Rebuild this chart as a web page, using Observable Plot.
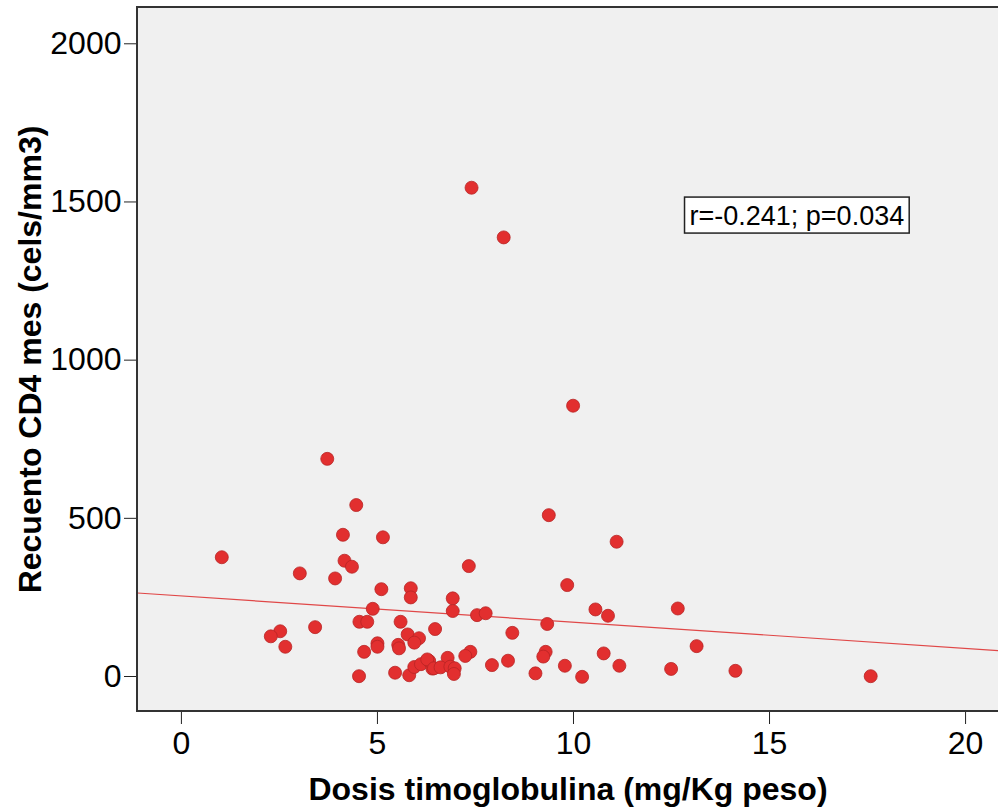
<!DOCTYPE html>
<html>
<head>
<meta charset="utf-8">
<script src="https://cdn.jsdelivr.net/npm/d3@7"></script>
<script src="https://cdn.jsdelivr.net/npm/@observablehq/plot@0.6"></script>
<style>
  html, body { margin: 0; padding: 0; background: #ffffff; }
  #chart svg { display: block; font-family: "Liberation Sans", Arial, sans-serif; }
</style>
</head>
<body>
<div id="chart"></div>
<script>
// Dose of thymoglobulin (mg/Kg) per patient
const dosis = [
  1.03, 3.72, 4.46, 4.12, 5.14, 4.16, 4.35, 3.02, 3.92, 5.10,
  5.85, 5.85, 4.88, 3.41, 2.52, 2.28, 2.65, 4.54, 4.74, 5.59,
  6.47, 5.77, 6.06, 5.94, 5.00, 5.00, 5.53, 5.55, 4.66, 4.53,
  5.45, 5.81, 5.94, 6.11, 6.32, 6.40, 7.33, 6.92, 6.92, 7.54,
  7.76, 8.44, 7.37, 7.24, 6.27, 6.79, 7.92, 8.33, 6.44, 6.61,
  6.86, 6.97, 6.95, 9.84, 10.56, 10.88, 12.66, 9.33, 13.14, 9.29,
  9.23, 10.77, 9.78, 11.17, 12.49, 9.03, 10.22, 9.37, 11.10, 14.13,
  17.58, 7.40, 8.22, 9.99
];
// CD4 count at one month (cels/mm3)
const cd4 = [
  377, 688, 542, 448, 440, 366, 347, 326, 310, 276,
  279, 250, 214, 156, 143, 127, 94, 173, 173, 173,
  150, 133, 121, 107, 105, 94, 100, 89, 78, 1,
  12, 4, 30, 39, 49, 25, 349, 247, 207, 194,
  200, 138, 78, 65, 54, 59, 36, 50, 26, 29,
  31, 26, 8, 289, 212, 192, 215, 166, 96, 78,
  63, 73, 34, 34, 24, 10, -1, 510, 426, 18,
  1, 1545, 1388, 856
];
const xTicks = [0, 5, 10, 15, 20];
const yTicks = [0, 500, 1000, 1500, 2000];
const xDomain = [-1.12, 20.84];
const yDomain = [-110.6, 2114.7];
// Fitted line (from the chart): intercept and slope
const fitIntercept = 254.7;
const fitSlope = -8.29;
const annotation = "r=-0.241; p=0.034";
const annotX = 15.71;
const annotY = 1457;
const xTitle = "Dosis timoglobulina (mg/Kg peso)";
const yTitle = "Recuento CD4 mes (cels/mm3)";

const points = dosis.map((d, i) => ({x: d, y: cd4[i]}));
const fit = xDomain.map(x => ({x, y: fitIntercept + fitSlope * x}));

const chart = Plot.plot({
  width: 998,
  height: 811,
  marginLeft: 137,
  marginRight: 0,
  marginTop: 7,
  marginBottom: 100,
  style: {fontFamily: "'Liberation Sans', Arial, sans-serif", background: "#ffffff", color: "#000"},
  x: {domain: xDomain},
  y: {domain: yDomain},
  marks: [
    Plot.frame({fill: "#f0f0f0", stroke: null}),
    Plot.line(fit, {x: "x", y: "y", stroke: "#e04848", strokeWidth: 1.2, clip: true}),
    Plot.dot(points, {x: "x", y: "y", r: 6.5, fill: "#e22f2f", stroke: "#b82424", strokeWidth: 0.8}),
    Plot.axisX({ticks: xTicks, tickSize: 13, tickPadding: 7, fontSize: 32, label: null, tickFormat: d => String(d), stroke: "#222"}),
    Plot.axisY({ticks: yTicks, tickSize: 13, tickPadding: 3, fontSize: 32, label: null, tickFormat: d => String(d), stroke: "#222"}),
    Plot.text([xTitle], {frameAnchor: "bottom", dy: 78, text: d => d, fontSize: 32, fontWeight: "bold", lineAnchor: "middle", fill: "#000"}),
    Plot.text([yTitle], {frameAnchor: "left", dx: -107, rotate: -90, text: d => d, fontSize: 32, fontWeight: "bold", lineAnchor: "middle", textAnchor: "middle", fill: "#000"})
  ]
});

document.getElementById("chart").appendChild(chart);

// Frame lines (left, top, bottom)
const svg = d3.select(chart);
const L = 137, T = 7, R = 998, B = 711;
svg.append("path")
  .attr("d", `M${R},${T}H${L}V${B}H${R}`)
  .attr("fill", "none").attr("stroke", "#333").attr("stroke-width", 2);

// Annotation box with text, positioned through the chart's scales
const cx = chart.scale("x").apply(annotX);
const cy = chart.scale("y").apply(annotY);
const g = svg.append("g")
  .attr("font-family", "'Liberation Sans', Arial, sans-serif")
  .attr("font-size", 27);
const rect = g.append("rect").attr("fill", "#ffffff").attr("stroke", "#222").attr("stroke-width", 1.5);
const txt = g.append("text")
  .attr("x", cx).attr("y", cy).attr("dy", "0.35em")
  .attr("text-anchor", "middle").attr("fill", "#000")
  .text(annotation);
let tw = 213;
try { const l = txt.node().getComputedTextLength(); if (l > 0) tw = l; } catch (e) {}
const boxW = tw + 10, boxH = 36;
rect.attr("x", cx - boxW / 2).attr("y", cy - boxH / 2).attr("width", boxW).attr("height", boxH);
</script>
</body>
</html>
